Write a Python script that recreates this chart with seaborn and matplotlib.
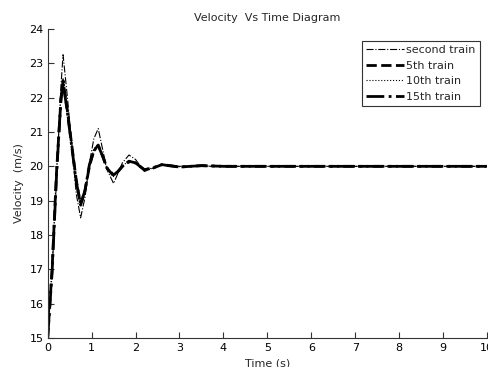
import matplotlib
matplotlib.use("Agg")
import matplotlib.pyplot as plt
import seaborn as sns
import pandas as pd

time_s = [0, 0.1, 0.2, 0.3, 0.35, 0.45, 0.55, 0.65, 0.75, 0.85, 0.95, 1.05, 1.15, 1.25, 1.35,
          1.5, 1.6, 1.7, 1.85, 2.0, 2.2, 2.4, 2.6, 2.8, 3.0, 3.5, 4.0, 5.0, 6.0, 7.0, 8.0, 9.0, 10.0]

second_train = [15, 16.9, 19.6, 22.3, 23.25, 22.0, 20.6, 19.2, 18.5, 19.1, 20.1, 20.8, 21.1, 20.5, 19.9,
                19.5, 19.8, 20.1, 20.33, 20.2, 19.85, 19.95, 20.05, 20.0, 20.0, 20.0, 20.0, 20.0, 20.0, 20.0, 20.0, 20.0, 20.0]
fifth_train = [15, 17.0, 19.8, 21.9, 22.5, 21.6, 20.6, 19.6, 18.87, 19.3, 20.0, 20.45, 20.62, 20.3, 19.95,
               19.72, 19.85, 20.0, 20.15, 20.1, 19.9, 19.95, 20.05, 20.02, 19.98, 20.02, 20.0, 20.0, 20.0, 20.0, 20.0, 20.0, 20.0]
tenth_train = [15, 17.1, 19.9, 22.0, 22.55, 21.65, 20.65, 19.6, 18.85, 19.25, 20.0, 20.5, 20.65, 20.3, 19.95,
               19.7, 19.85, 20.0, 20.17, 20.1, 19.9, 19.95, 20.04, 20.02, 19.99, 20.01, 20.0, 20.0, 20.0, 20.0, 20.0, 20.0, 20.0]
fifteenth_train = [15, 16.9, 19.7, 21.95, 22.45, 21.55, 20.55, 19.55, 18.9, 19.3, 20.05, 20.45, 20.6, 20.3, 19.95,
                   19.75, 19.85, 20.0, 20.13, 20.1, 19.9, 19.96, 20.05, 20.01, 19.98, 20.02, 20.0, 20.0, 20.0, 20.0, 20.0, 20.0, 20.0]

series_names = ["second train", "5th train", "10th train", "15th train"]
series_values = [second_train, fifth_train, tenth_train, fifteenth_train]

sns.set_style("ticks")
plt.rcParams['font.family'] = ['DejaVu Sans']

fig = plt.figure(figsize=(4.89, 3.67), dpi=100)
ax = fig.add_axes([0.0975, 0.079, 0.8985, 0.842])

styles = [("-.", 0.8), ("--", 2.0), (":", 0.8), ("-.", 2.0)]
for name, vals, (ls, lw) in zip(series_names, series_values, styles):
    df = pd.DataFrame({"t": time_s, "v": vals})
    sns.lineplot(data=df, x="t", y="v", ax=ax, color="black", linewidth=lw, label=name)
    ax.lines[-1].set_linestyle(ls)

ax.set_xlim(0, 10)
ax.set_ylim(15, 24)
ax.set_xticks(range(0, 11))
ax.set_yticks(range(15, 25))
ax.tick_params(direction="in", length=4, width=0.8, labelsize=8, colors="#333333", labelcolor="black")
ax.tick_params(axis="y", pad=3)
ax.tick_params(axis="x", pad=3.5)
for side in ["top", "right"]:
    ax.spines[side].set_visible(False)
for side in ["left", "bottom"]:
    ax.spines[side].set_color("#333333")
    ax.spines[side].set_linewidth(0.8)

ax.set_title("Velocity  Vs Time Diagram", fontsize=8, pad=6)
ax.set_xlabel("Time (s)", fontsize=8, labelpad=4)
ax.set_ylabel("Velocity  (m/s)", fontsize=8, labelpad=4)

leg = ax.legend(loc="upper right", fontsize=8, fancybox=False, framealpha=1, edgecolor="#333333",
                handlelength=3.4, handletextpad=0.2, borderpad=0.4, labelspacing=0.5,
                bbox_to_anchor=(0.997, 0.98))
leg.get_frame().set_linewidth(0.8)

fig.savefig("out.png", dpi=100)
